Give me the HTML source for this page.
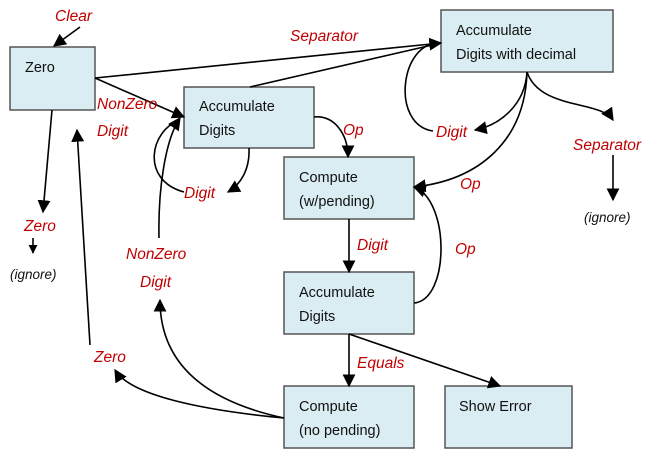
<!DOCTYPE html>
<html><head><meta charset="utf-8"><style>
html,body{margin:0;padding:0;background:#fff}
svg{display:block}
.b{fill:#daedf3;stroke:#555;stroke-width:1.5}
.t{font-family:"Liberation Sans",sans-serif;font-size:14.5px;fill:#111}
.l{font-family:"Liberation Sans",sans-serif;font-size:15.5px;font-style:italic;fill:#c00000}
.k{font-family:"Liberation Sans",sans-serif;font-size:13.5px;font-style:italic;fill:#111}
.c{fill:none;stroke:#000;stroke-width:1.6}
</style></head><body>
<svg width="658" height="458" viewBox="0 0 658 458">
<defs><marker id="a" viewBox="0 0 10 10" refX="9" refY="5" markerWidth="9" markerHeight="9" markerUnits="userSpaceOnUse" orient="auto"><path d="M0,0L10,5L0,10z" fill="#000"/></marker>
<marker id="A" viewBox="0 0 10 10" refX="9" refY="5" markerWidth="13" markerHeight="13" markerUnits="userSpaceOnUse" orient="auto"><path d="M0,0L10,5L0,10z" fill="#000"/></marker></defs>

<rect class="b" x="10" y="47" width="85" height="63"/>
<rect class="b" x="184" y="87" width="130" height="61"/>
<rect class="b" x="441" y="10" width="172" height="62"/>
<rect class="b" x="284" y="157" width="130" height="62"/>
<rect class="b" x="284" y="272" width="130" height="62"/>
<rect class="b" x="284" y="386" width="130" height="62"/>
<rect class="b" x="445" y="386" width="127" height="62"/>

<text class="t" x="25" y="72">Zero</text>
<text class="t" x="199" y="111">Accumulate</text><text class="t" x="199" y="135">Digits</text>
<text class="t" x="456" y="35">Accumulate</text><text class="t" x="456" y="59">Digits with decimal</text>
<text class="t" x="299" y="182">Compute</text><text class="t" x="299" y="206">(w/pending)</text>
<text class="t" x="299" y="297">Accumulate</text><text class="t" x="299" y="321">Digits</text>
<text class="t" x="299" y="411">Compute</text><text class="t" x="299" y="435">(no pending)</text>
<text class="t" x="459" y="411">Show Error</text>

<g class="c">
<path d="M80,27L54,46" marker-end="url(#A)"/>
<path d="M95,78L441,43" marker-end="url(#A)"/>
<path d="M250,87L441,43"/>
<path d="M95,78L184,117" marker-end="url(#A)"/>
<path d="M52,110L43,212" marker-end="url(#A)"/>
<path d="M33,238L33,253" marker-end="url(#a)"/>
<path d="M90,345L77,130" marker-end="url(#A)"/>
<path d="M284,418C200,410 130,395 115,370" marker-end="url(#A)"/>
<path d="M284,418C200,400 160,360 160,300" marker-end="url(#A)"/>
<path d="M159,238C158,190 165,140 180,118" marker-end="url(#A)"/>
<path d="M180,120C150,130 140,180 184,192"/>
<path d="M249,148C250,170 240,185 228,192" marker-end="url(#A)"/>
<path d="M314,117C335,115 348,135 348,157" marker-end="url(#A)"/>
<path d="M441,43C400,40 390,125 433,131"/>
<path d="M527,72C525,105 500,125 475,130" marker-end="url(#A)"/>
<path d="M527,72C525,140 480,180 414,187" marker-end="url(#A)"/>
<path d="M527,72C540,110 600,100 613,120" marker-end="url(#A)"/>
<path d="M613,155L613,200" marker-end="url(#A)"/>
<path d="M414,303C450,300 450,200 414,187" marker-end="url(#A)"/>
<path d="M349,219L349,272" marker-end="url(#A)"/>
<path d="M349,334L349,386" marker-end="url(#A)"/>
<path d="M349,334L500,386" marker-end="url(#A)"/>
</g>

<text class="l" x="55" y="21">Clear</text>
<text class="l" x="290" y="41">Separator</text>
<text class="l" x="97" y="109">NonZero</text><text class="l" x="97" y="136">Digit</text>
<text class="l" x="24" y="231">Zero</text>
<text class="k" x="10" y="279">(ignore)</text>
<text class="l" x="184" y="198">Digit</text>
<text class="l" x="343" y="135">Op</text>
<text class="l" x="436" y="137">Digit</text>
<text class="l" x="460" y="189">Op</text>
<text class="l" x="573" y="150">Separator</text>
<text class="k" x="584" y="222">(ignore)</text>
<text class="l" x="126" y="259">NonZero</text><text class="l" x="140" y="287">Digit</text>
<text class="l" x="357" y="250">Digit</text>
<text class="l" x="455" y="254">Op</text>
<text class="l" x="94" y="362">Zero</text>
<text class="l" x="357" y="368">Equals</text>
</svg>
</body></html>
